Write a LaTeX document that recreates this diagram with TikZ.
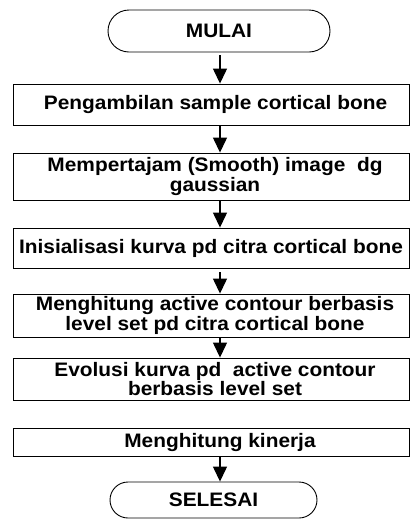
\documentclass[tikz,border=0pt]{standalone}
\usepackage{fontspec}
\setmainfont[FakeStretch=1.07]{Liberation Sans}
\usetikzlibrary{arrows.meta,shapes.misc}
\begin{document}
\begin{tikzpicture}[x=1pt,y=-1pt,
  every node/.style={font=\fontsize{19.5}{16.7}\selectfont\bfseries, inner sep=0pt, align=center},
  stepbox/.style={draw, line width=0.9pt, rectangle, minimum width=396pt},
  term/.style={draw, line width=0.9pt, rounded rectangle},
  arr/.style={line width=1.3pt, -{Triangle[length=15pt,width=14pt]}}]
\useasboundingbox (0,0) rectangle (411,520);
\node[term, minimum width=222pt, minimum height=42pt] (s) at (219,31) {MULAI};
\node[stepbox, minimum height=41pt] (b1) at (211,104.5) {\hspace*{9pt}Pengambilan sample cortical bone};
\node[stepbox, minimum height=47pt] (b2) at (211,176.5) {\hspace*{8pt}Mempertajam (Smooth) image\ \ dg\\\hspace*{8pt}gaussian};
\node[stepbox, minimum height=40pt] (b3) at (211,248) {Inisialisasi kurva pd citra cortical bone};
\node[stepbox, minimum height=43pt] (b4) at (211,315.5) {\hspace*{8pt}Menghitung active contour berbasis\\\hspace*{8pt}level set pd citra cortical bone};
\node[stepbox, minimum height=42pt] (b5) at (211,379) {\hspace*{8pt}Evolusi kurva pd\ \ active contour\\\hspace*{8pt}berbasis level set};
\node[stepbox, minimum height=28pt] (b6) at (211,442) {\hspace*{18pt}Menghitung kinerja};
\node[term, minimum width=207pt, minimum height=36pt] (e) at (213.5,500) {SELESAI};
\coordinate (ax) at (220,0);
\draw[arr] (s.south -| ax) ++(0,3) -- (b1.north -| ax);
\draw[arr] (b1.south -| ax) -- (b2.north -| ax);
\draw[arr] (b2.south -| ax) -- (b3.north -| ax);
\draw[arr] (b3.south -| ax) ++(0,4) -- (b4.north -| ax);
\draw[arr] (b4.south -| ax) -- (b5.north -| ax);
\draw[arr] (b6.south -| ax) -- (e.north -| ax);
\end{tikzpicture}
\end{document}
